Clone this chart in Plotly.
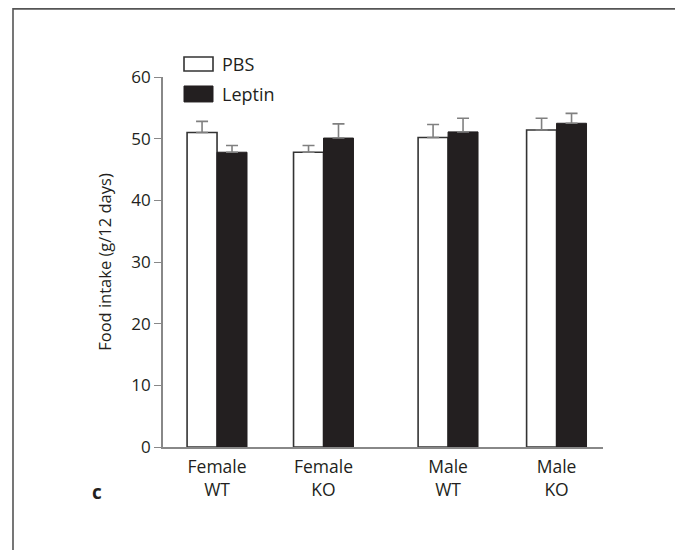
import plotly.graph_objects as go

# ---- data ----
groups = ["Female<br>WT", "Female<br>KO", "Male<br>WT", "Male<br>KO"]
pbs_mean = [51.0, 47.8, 50.2, 51.4]
pbs_err = [1.8, 1.1, 2.1, 1.9]
leptin_mean = [47.8, 50.1, 51.1, 52.5]
leptin_err = [1.1, 2.3, 2.2, 1.6]
y_ticks = [0, 10, 20, 30, 40, 50, 60]

# ---- layout constants ----
group_x = [1.0, 1.995, 3.159, 4.173]
bar_w = 0.28
FONT = "Open Sans"
outline = "#333333"
errc = "#808080"
ink = "#231f20"

OFF = 8  # default page body margin
W, H = 683 - OFF, 550 - OFF
L, T = 163 - OFF, 77 - OFF
R, B = 80, 102.5
pw, ph = W - L - R, H - T - B

def px(xp):
    return (xp - OFF - L) / pw

def py(yp):
    return (H - B - (yp - OFF)) / ph

fig = go.Figure()
fig.add_trace(go.Bar(
    x=group_x, y=pbs_mean, width=bar_w, offset=-bar_w, name="PBS",
    marker=dict(color="white", line=dict(color=outline, width=1.6)),
    error_y=dict(type="data", array=pbs_err, arrayminus=[0]*len(pbs_err),
                 symmetric=False, color=errc, thickness=1.6, width=6),
    showlegend=False))
fig.add_trace(go.Bar(
    x=group_x, y=leptin_mean, width=bar_w, offset=0, name="Leptin",
    marker=dict(color=ink, line=dict(color=ink, width=1.0)),
    error_y=dict(type="data", array=leptin_err, arrayminus=[0]*len(leptin_err),
                 symmetric=False, color=errc, thickness=1.6, width=6),
    showlegend=False))

shapes = [
    # outer frame
    dict(type="rect", xref="paper", yref="paper", x0=px(13), x1=px(677), y0=py(580), y1=py(8.8),
         line=dict(color="#555555", width=1.6), fillcolor="rgba(0,0,0,0)", layer="below"),
    # legend swatches
    dict(type="rect", xref="paper", yref="paper", x0=px(184), x1=px(213), y0=py(71), y1=py(57),
         line=dict(color=outline, width=1.6), fillcolor="white"),
    dict(type="rect", xref="paper", yref="paper", x0=px(184), x1=px(213), y0=py(102), y1=py(86),
         line=dict(color=ink, width=1), fillcolor=ink),
]
annotations = [
    dict(text="PBS", xref="paper", yref="paper", x=px(220), y=py(64), xanchor="left", yanchor="middle",
         showarrow=False, font=dict(family=FONT, size=18, color=ink)),
    dict(text="Leptin", xref="paper", yref="paper", x=px(220), y=py(94), xanchor="left", yanchor="middle",
         showarrow=False, font=dict(family=FONT, size=18, color=ink)),
    dict(text="<b>c</b>", xref="paper", yref="paper", x=px(97), y=py(493), xanchor="center", yanchor="middle",
         showarrow=False, font=dict(family=FONT, size=19, color=ink)),
]

fig.update_layout(
    width=W, height=H,
    margin=dict(l=L, r=R, t=T, b=B),
    paper_bgcolor="white", plot_bgcolor="white",
    font=dict(family=FONT, size=16, color=ink),
    shapes=shapes, annotations=annotations,
    xaxis=dict(range=[0.495, 4.607], tickvals=group_x, ticktext=groups, ticks="",
               ticklabelstandoff=3,
               showline=True, linecolor="#888888", linewidth=1.6, showgrid=False, zeroline=False,
               tickfont=dict(family=FONT, size=17.5, color=ink)),
    yaxis=dict(range=[0, 60], tickvals=y_ticks, ticks="outside", ticklen=7, tickcolor="#888888",
               tickwidth=1.4, showline=True, linecolor="#888888", linewidth=1.6, showgrid=False,
               zeroline=False, tickfont=dict(family=FONT, size=17, color=ink),
               title=dict(text="Food intake (g/12 days)", standoff=16,
                          font=dict(family=FONT, size=16.5, color=ink))),
)

fig.write_html("out.html")
